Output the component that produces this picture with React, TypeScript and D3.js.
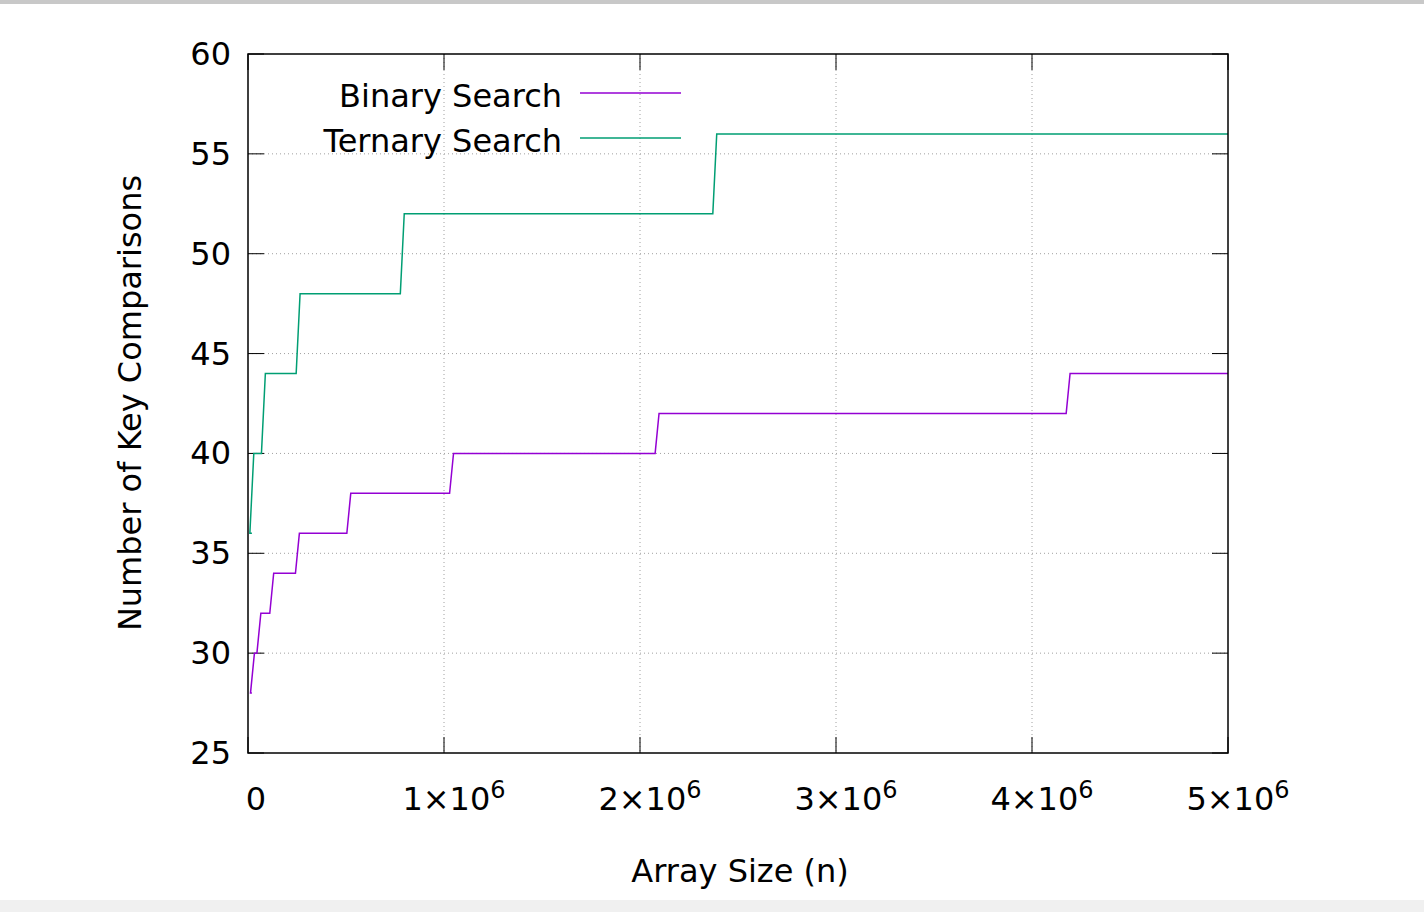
import * as React from 'react';
import * as d3 from 'd3';

// step thresholds (array size n) and comparison counts after each step
const binaryStart = 20000;
const binaryThresholds = [20000, 32768, 65536, 131072, 262144, 524288, 1048576, 2097152, 4194304];
const binaryValues = [28, 30, 32, 34, 36, 38, 40, 42, 44];
const ternaryThresholds = [20000, 29524, 88573, 265720, 797161, 2391484];
const ternaryValues = [36, 40, 44, 48, 52, 56];
const xMax = 5000000;
const xTicks = [0, 1, 2, 3, 4, 5];
const yTicks = [25, 30, 35, 40, 45, 50, 55, 60];

const W = 1424, H = 912;
const left = 248, right = 1228, top = 54, bottom = 753;
const font = '"DejaVu Sans", Verdana, sans-serif';

function stepPoints(ts: number[], vs: number[]): [number, number][] {
  const pts: [number, number][] = [[ts[0], vs[0]]];
  for (let i = 1; i < ts.length; i++) {
    pts.push([ts[i] - 20000, vs[i - 1]]);
    pts.push([ts[i], vs[i]]);
  }
  pts.push([xMax, vs[vs.length - 1]]);
  return pts;
}

export default function App() {
  const x = d3.scaleLinear().domain([0, xMax]).range([left, right]);
  const y = d3.scaleLinear().domain([25, 60]).range([bottom, top]);
  const line = d3.line<[number, number]>().x(d => x(d[0])).y(d => y(d[1]));
  const series = [
    { name: 'Binary Search', color: '#9400d3', pts: stepPoints(binaryThresholds, binaryValues) },
    { name: 'Ternary Search', color: '#009e73', pts: stepPoints(ternaryThresholds, ternaryValues) },
  ];
  void binaryStart;
  return (
    <svg width={W} height={H} style={{ position: 'absolute', left: 0, top: 0, background: '#fff' }} fontFamily={font}>
      <rect x={0} y={0} width={W} height={4} fill="#c8c8c8" />
      <rect x={0} y={900} width={W} height={12} fill="#f0f0f0" />
      {yTicks.slice(1, -1).map(t => (
        <line key={'gy' + t} x1={left} x2={right} y1={y(t)} y2={y(t)} stroke="#a0a0a0" strokeWidth={1} strokeDasharray="1,3" />
      ))}
      {xTicks.slice(1, -1).map(t => (
        <line key={'gx' + t} x1={x(t * 1e6)} x2={x(t * 1e6)} y1={top} y2={bottom} stroke="#a0a0a0" strokeWidth={1} strokeDasharray="1,3" />
      ))}
      {yTicks.map(t => (
        <g key={'ty' + t}>
          <line x1={left} x2={left + 16} y1={y(t)} y2={y(t)} stroke="#000" />
          <line x1={right - 16} x2={right} y1={y(t)} y2={y(t)} stroke="#000" />
          <text x={231} y={y(t) + 11} textAnchor="end" fontSize={32}>{t}</text>
        </g>
      ))}
      {xTicks.map(t => (
        <g key={'tx' + t}>
          <line x1={x(t * 1e6)} x2={x(t * 1e6)} y1={bottom} y2={bottom - 16} stroke="#000" />
          <line x1={x(t * 1e6)} x2={x(t * 1e6)} y1={top} y2={top + 16} stroke="#000" />
          <text x={x(t * 1e6) + (t === 0 ? 8 : 10)} y={810} textAnchor="middle" fontSize={32}>
            {t === 0 ? '0' : <>{t}×10<tspan dy={-12} fontSize={24}>6</tspan></>}
          </text>
        </g>
      ))}
      {series.map(s => (
        <path key={s.name} d={line(s.pts) || ''} fill="none" stroke={s.color} strokeWidth={1.5} />
      ))}
      <rect x={left} y={top} width={right - left} height={bottom - top} fill="none" stroke="#000" strokeWidth={1.5} />
      {series.map((s, i) => (
        <g key={'lg' + s.name}>
          <text x={562} y={107 + i * 45} textAnchor="end" fontSize={32}>{s.name}</text>
          <line x1={580} x2={681} y1={93 + i * 45} y2={93 + i * 45} stroke={s.color} strokeWidth={1.5} />
        </g>
      ))}
      <text x={740} y={882} textAnchor="middle" fontSize={32}>Array Size (n)</text>
      <text transform="translate(141,403) rotate(-90)" textAnchor="middle" fontSize={32}>Number of Key Comparisons</text>
    </svg>
  );
}
